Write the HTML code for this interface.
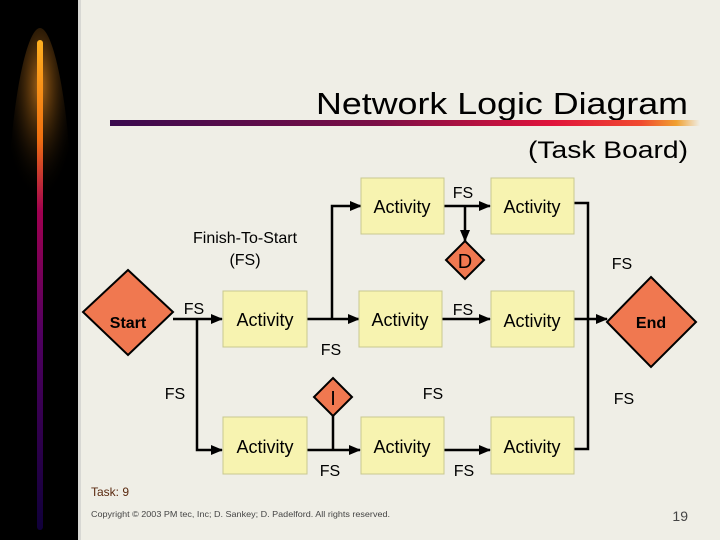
<!DOCTYPE html>
<html><head><meta charset="utf-8"><style>
html,body{margin:0;padding:0;}
body{width:720px;height:540px;overflow:hidden;background:#efeee6;font-family:"Liberation Sans",Arial,sans-serif;}
svg text{font-family:"Liberation Sans",Arial,sans-serif;}
</style></head><body>
<svg width="720" height="540" viewBox="0 0 720 540" xmlns="http://www.w3.org/2000/svg" style="display:block" font-family="Liberation Sans, Arial, sans-serif">
<defs>
<linearGradient id="bar" x1="0" x2="1" y1="0" y2="0">
<stop offset="0" stop-color="#3a0a4e"/><stop offset="0.45" stop-color="#7a0e46"/>
<stop offset="0.75" stop-color="#e0143c"/><stop offset="0.9" stop-color="#f04a30"/>
<stop offset="0.96" stop-color="#f0a030"/><stop offset="1" stop-color="#efeee6"/>
</linearGradient>
<linearGradient id="flame" x1="0" x2="0" y1="0" y2="1">
<stop offset="0" stop-color="#ffb020"/><stop offset="0.2" stop-color="#f07010"/>
<stop offset="0.35" stop-color="#a00050"/><stop offset="0.6" stop-color="#500060"/>
<stop offset="1" stop-color="#10003a"/>
</linearGradient>
<radialGradient id="glow" cx="0.5" cy="0.3" r="0.6">
<stop offset="0" stop-color="#b06a18" stop-opacity="0.95"/><stop offset="1" stop-color="#000" stop-opacity="0"/>
</radialGradient>
<marker id="ar" markerWidth="12" markerHeight="12" refX="11" refY="6" orient="auto" markerUnits="userSpaceOnUse">
<path d="M0,1 L12,6 L0,11 z" fill="#000"/></marker>
</defs>
<rect x="0" y="0" width="78" height="540" fill="#000"/>
<rect x="78" y="0" width="3" height="540" fill="#d8d8d4"/>
<path d="M8,220 C8,120 25,28 40,28 C55,28 72,120 72,220 Z" fill="url(#glow)"/>
<rect x="37" y="40" width="6" height="490" rx="3" fill="url(#flame)"/>
<text x="688" y="114" font-size="31" text-anchor="end" fill="#000" textLength="372" lengthAdjust="spacingAndGlyphs">Network Logic Diagram</text>
<rect x="110" y="120" width="590" height="6" fill="url(#bar)"/>
<text x="688" y="158" font-size="24" text-anchor="end" fill="#000" textLength="160" lengthAdjust="spacingAndGlyphs">(Task Board)</text>

<g stroke="#000" stroke-width="2.5" fill="none">
<line x1="173" y1="319" x2="222" y2="319" marker-end="url(#ar)"/>
<polyline points="197,319 197,450 222,450" marker-end="url(#ar)"/>
<line x1="307" y1="319" x2="359" y2="319" marker-end="url(#ar)"/>
<polyline points="332,319 332,206 361,206" marker-end="url(#ar)"/>
<line x1="444" y1="206" x2="490" y2="206" marker-end="url(#ar)"/>
<line x1="465" y1="206" x2="465" y2="241" marker-end="url(#ar)"/>
<line x1="442" y1="319" x2="490" y2="319" marker-end="url(#ar)"/>
<line x1="307" y1="450" x2="360" y2="450" marker-end="url(#ar)"/>
<line x1="333" y1="416" x2="333" y2="450"/>
<line x1="444" y1="450" x2="490" y2="450" marker-end="url(#ar)"/>
<polyline points="574,203 588,203 588,449 574,449"/>
<line x1="574" y1="319" x2="607" y2="319" marker-end="url(#ar)"/>
</g>

<g fill="#f7f3b0" stroke="#c8c890" stroke-width="1">
<rect x="223" y="291" width="84" height="56"/>
<rect x="361" y="178" width="83" height="56"/>
<rect x="359" y="291" width="83" height="56"/>
<rect x="361" y="417" width="83" height="57"/>
<rect x="491" y="178" width="83" height="56"/>
<rect x="491" y="291" width="83" height="56"/>
<rect x="491" y="417" width="83" height="57"/>
<rect x="223" y="417" width="84" height="57"/>
</g>
<g stroke="#000" stroke-width="2" fill="#f07850">
<polygon points="128,270 173,312 128,355 83,312"/>
<polygon points="651,277 696,322 651,367 607,322"/>
<polygon points="465,241 484,260 465,279 446,260"/>
<polygon points="333,378 352,397 333,416 314,397"/>
</g>
<g font-size="18" fill="#000" text-anchor="middle">
<text x="265" y="326">Activity</text>
<text x="402" y="213">Activity</text>
<text x="400" y="326">Activity</text>
<text x="402" y="453">Activity</text>
<text x="532" y="213">Activity</text>
<text x="532" y="327">Activity</text>
<text x="532" y="453">Activity</text>
<text x="265" y="453">Activity</text>
<text x="465" y="268" font-size="20">D</text>
<text x="333" y="405" font-size="20">I</text>
</g>
<g font-size="16" font-weight="bold" text-anchor="middle" fill="#000">
<text x="128" y="328">Start</text>
<text x="651" y="328">End</text>
</g>
<g font-size="16" fill="#000" text-anchor="middle">
<text x="245" y="243">Finish-To-Start</text>
<text x="245" y="265">(FS)</text>
<text x="194" y="314">FS</text>
<text x="331" y="355">FS</text>
<text x="175" y="399">FS</text>
<text x="463" y="198">FS</text>
<text x="622" y="269">FS</text>
<text x="463" y="315">FS</text>
<text x="433" y="399">FS</text>
<text x="624" y="404">FS</text>
<text x="330" y="476">FS</text>
<text x="464" y="476">FS</text>
</g>
<text x="91" y="496" font-size="12" fill="#5a2a10">Task:  9</text>
<text x="91" y="517" font-size="8.5" fill="#444" textLength="299" lengthAdjust="spacingAndGlyphs">Copyright © 2003 PM tec, Inc; D. Sankey; D. Padelford. All rights reserved.</text>
<text x="688" y="521" font-size="14" fill="#444" text-anchor="end">19</text>
</svg>
</body></html>
